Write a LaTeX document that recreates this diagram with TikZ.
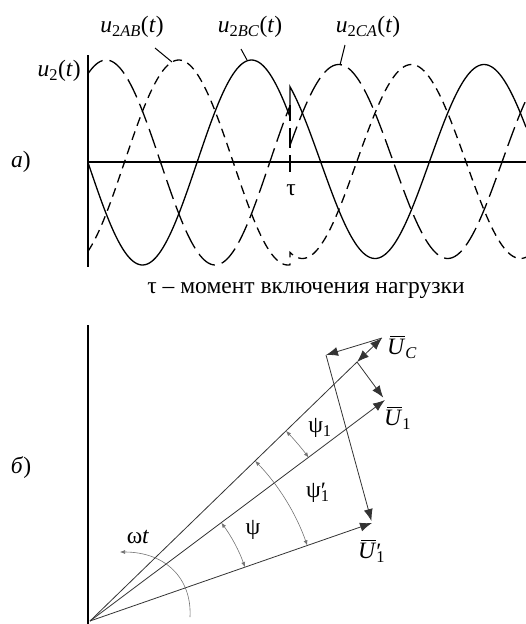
\documentclass[tikz,border=0pt]{standalone}
\usepackage{fontspec}
\setmainfont{Liberation Serif}
\usetikzlibrary{arrows.meta}
\newcommand{\ovU}{\rlap{\raisebox{0.76em}{\hspace{0.14em}\rule{0.62em}{0.05em}}}\textit{U}}
\newcommand{\prm}{\raisebox{-0.05em}{\textup{′}}}
\begin{document}
\begin{tikzpicture}[x=1pt,y=-1pt,
  lbl/.style={font=\fontsize{23.5}{27}\selectfont, inner sep=0pt},
  curve/.style={line width=1.3pt},
  longd/.style={curve, dash pattern=on 20pt off 7pt},
  shortd/.style={curve, dash pattern=on 9pt off 6pt},
  vecline/.style={line width=0.8pt, draw=black!80},
  vec/.style={vecline, -{Latex[length=12pt,width=9pt]}},
  dvec/.style={vecline, {Latex[length=12pt,width=9pt]}-{Latex[length=12pt,width=9pt]}},
  arcline/.style={line width=0.6pt, draw=black!55},
  arc2/.style={arcline, {Latex[length=5pt,width=4pt]}-{Latex[length=5pt,width=4pt]}}]
\useasboundingbox (0,0) rectangle (526,624);

% ---------- part a ----------
\coordinate (ay0) at (88,55);
\coordinate (ay1) at (88,267);
\coordinate (ax0) at (88,162);
\coordinate (ax1) at (526,162);
\draw[line width=1.5pt] (ay0) -- (ay1);
\draw[line width=1.5pt] (ax0) -- (ax1);

% solid u2BC
\draw[curve] plot[domain=88:290, samples=100, smooth] (\x, {162.5+102.5*sin(1.651376*(\x-88))})
  -- plot[domain=290:526, samples=110, smooth] (\x, {161.5+97*sin(1.651376*(\x-88)-24)});
% long dashed u2CA
\draw[longd] plot[domain=88:290, samples=100, smooth] (\x, {162.5-102.5*sin(1.651376*(\x-88)+60)});
\coordinate (tauA) at (290,105);
\coordinate (tauB) at (290,172);
\draw[longd, dash phase=4pt] (tauA) -- (tauB);
\draw[longd] plot[domain=290:526, samples=110, smooth] (\x, {161.5-97*sin(1.651376*(\x-88)+36)});
% short dashed u2AB
\draw[shortd] plot[domain=88:290, samples=100, smooth] (\x, {162.5-102.5*sin(1.651376*(\x-88)-60)})
  -- plot[domain=290:526, samples=110, smooth] (\x, {161.5-97*sin(1.651376*(\x-88)-84)});

% leaders
\coordinate (l1a) at (155,48); \coordinate (l1b) at (172,62);
\coordinate (l2a) at (241,49); \coordinate (l2b) at (247,60);
\coordinate (l3a) at (345,45); \coordinate (l3b) at (340,65);
\draw[line width=1pt] (l1a) -- (l1b);
\draw[line width=1pt] (l2a) -- (l2b);
\draw[line width=1pt] (l3a) -- (l3b);

\node[lbl] (tAB) at (132,27) {\textit{u}\textsubscript{2\textit{AB}}(\textit{t})};
\node[lbl] (tBC) at (250,27) {\textit{u}\textsubscript{2\textit{BC}}(\textit{t})};
\node[lbl] (tCA) at (368,27) {\textit{u}\textsubscript{2\textit{CA}}(\textit{t})};
\node[lbl, anchor=east] (tu2) at (81,71) {\textit{u}\textsubscript{2}(\textit{t})};
\node[lbl] (ta) at (21,162) {\textit{а})};
\node[lbl] (ttau) at (291,190) {τ};
\node[lbl] (cap) at (306,290) {τ – момент включения нагрузки};

% ---------- part b ----------
\coordinate (by0) at (88,325);
\coordinate (by1) at (88,624);
\draw[line width=1.3pt] (by0) -- (by1);
\coordinate (O) at (90,621);
\coordinate (Pt) at (357,362);
\coordinate (UC) at (382,338);
\coordinate (Q) at (326,355);
\coordinate (U1) at (385,400);
\coordinate (U1p) at (372,523);

\draw[vecline] (O) -- (Pt);
\draw[dvec] (Pt) -- (UC);
\draw[vec] (UC) -- (Q);
\draw[vec, shorten >=2pt] (Q) -- (U1p);
\draw[vec, shorten >=3pt] (Pt) -- (U1);
\draw[vec] (O) -- (U1);
\draw[vec] (O) -- (U1p);

\draw[arc2] (O) ++(-44.1:273) arc[start angle=-44.1, end angle=-36.8, radius=273];
\draw[arc2] (O) ++(-44.1:230) arc[start angle=-44.1, end angle=-19.2, radius=230];
\draw[arc2] (O) ++(-36.8:164) arc[start angle=-36.8, end angle=-19.2, radius=164];
\coordinate (w0) at (190,617);
\coordinate (w1) at (120,552);
\draw[arcline, -{Latex[length=5pt,width=4pt]}] (w0) .. controls (192,578) and (165,552) .. (w1);

\node[lbl, anchor=west] (lUC) at (387,347) {\ovU\textsubscript{\textit{C}}};
\node[lbl, anchor=west] (lU1) at (384,418) {\ovU\textsubscript{1}};
\node[lbl, anchor=west] (lU1p) at (358,551) {\ovU\rlap{\textsubscript{1}}\prm};
\node[lbl] (lp1) at (320,428) {ψ\textsubscript{1}};
\node[lbl] (lp1p) at (316,493) {ψ\rlap{\textsubscript{1}}\prm};
\node[lbl] (lp) at (253,530) {ψ};
\node[lbl] (lwt) at (138,537) {ω\textit{t}};
\node[lbl] (tb) at (21,468) {\textit{б})};
\end{tikzpicture}
\end{document}
